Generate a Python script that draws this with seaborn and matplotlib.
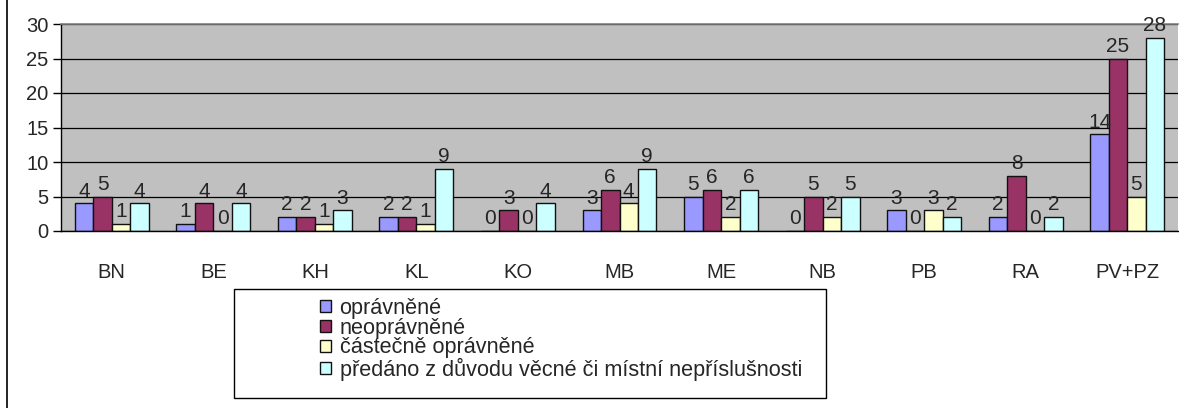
"""
Počty podání podle pracovišť - sloupcový graf
"""
import pandas as pd
import numpy as np
import matplotlib.pyplot as plt
import seaborn as sns
from matplotlib.patches import Rectangle, Patch
from matplotlib.lines import Line2D

pracoviste = ['BN', 'BE', 'KH', 'KL', 'KO', 'MB', 'ME', 'NB', 'PB', 'RA', 'PV+PZ']
serie = ['oprávněné', 'neoprávněné', 'částečně oprávněné',
         'předáno z důvodu věcné či místní nepříslušnosti']
opravnene = [4, 1, 2, 2, 0, 3, 5, 0, 3, 2, 14]
neopravnene = [5, 4, 2, 2, 3, 6, 6, 5, 0, 8, 25]
castecne = [1, 0, 1, 1, 0, 4, 2, 2, 3, 0, 5]
predano = [4, 4, 3, 9, 4, 9, 6, 5, 2, 2, 28]
barvy = ['#9999FF', '#993366', '#FFFFCC', '#CCFFFF']

W, H = 1179, 408

sns.set_theme(style='white')
plt.rcParams['font.family'] = ['Liberation Sans', 'DejaVu Sans']

# long-form tabulka pro seaborn
df = pd.DataFrame({
    'pracoviste': pracoviste * 4,
    'serie': np.repeat(serie, len(pracoviste)),
    'pocet': opravnene + neopravnene + castecne + predano,
})

fig = plt.figure(figsize=(W / 100, H / 100), dpi=100)
ax = fig.add_axes([61 / W, 177 / H, 1117 / W, 207 / H])
ax.set_facecolor('#C0C0C0')

sns.barplot(data=df, x='pracoviste', y='pocet', hue='serie', order=pracoviste,
            hue_order=serie, palette=barvy, width=4 / 5.5, gap=0,
            edgecolor='#111111', linewidth=1.0, saturation=1, ax=ax, legend=False)

for cont in ax.containers:
    ax.bar_label(cont, fontsize=15, padding=2)

ax.set_ylim(0, 30)
ax.set_xlim(-0.5, len(pracoviste) - 0.5)
ax.set_yticks(range(0, 31, 5))
ax.yaxis.grid(True, color='black', linewidth=0.9)
ax.set_axisbelow(True)
ax.set_xlabel('')
ax.set_ylabel('')

# ticky na hranicich kategorií (jako v Excelu)
ax.set_xticks(np.arange(-0.5, len(pracoviste)), minor=True)
ax.tick_params(axis='x', which='minor', length=6, width=1, color='black', direction='out')
ax.tick_params(axis='x', which='major', length=0, pad=23, labelsize=14.5)
ax.tick_params(axis='y', length=6, width=1, color='black', direction='out',
               labelsize=14.5, pad=3, left=True)

for s in ['left', 'bottom']:
    ax.spines[s].set_color('black')
    ax.spines[s].set_linewidth(1)
ax.spines['top'].set_color('#808080')
ax.spines['top'].set_linewidth(1.2)
ax.spines['right'].set_visible(False)

# levý okraj grafu
fig.add_artist(Line2D([7 / W, 7 / W], [0, 1], color='black', linewidth=1.2,
                      transform=fig.transFigure))

# rámeček legendy
fig.add_artist(Rectangle((234 / W, 10 / H), 592 / W, 109 / H, transform=fig.transFigure,
                         facecolor='white', edgecolor='black', linewidth=1))
handles = [Patch(facecolor=c, edgecolor='#111111', linewidth=1) for c in barvy]
fig.legend(handles, serie, loc='upper left', bbox_to_anchor=(311 / W, 1 - 289 / H),
           frameon=False, fontsize=15.6, handlelength=0.52, handleheight=0.52,
           handletextpad=0.4, labelspacing=-0.05, borderaxespad=0)

fig.savefig('out.png', dpi=100)
